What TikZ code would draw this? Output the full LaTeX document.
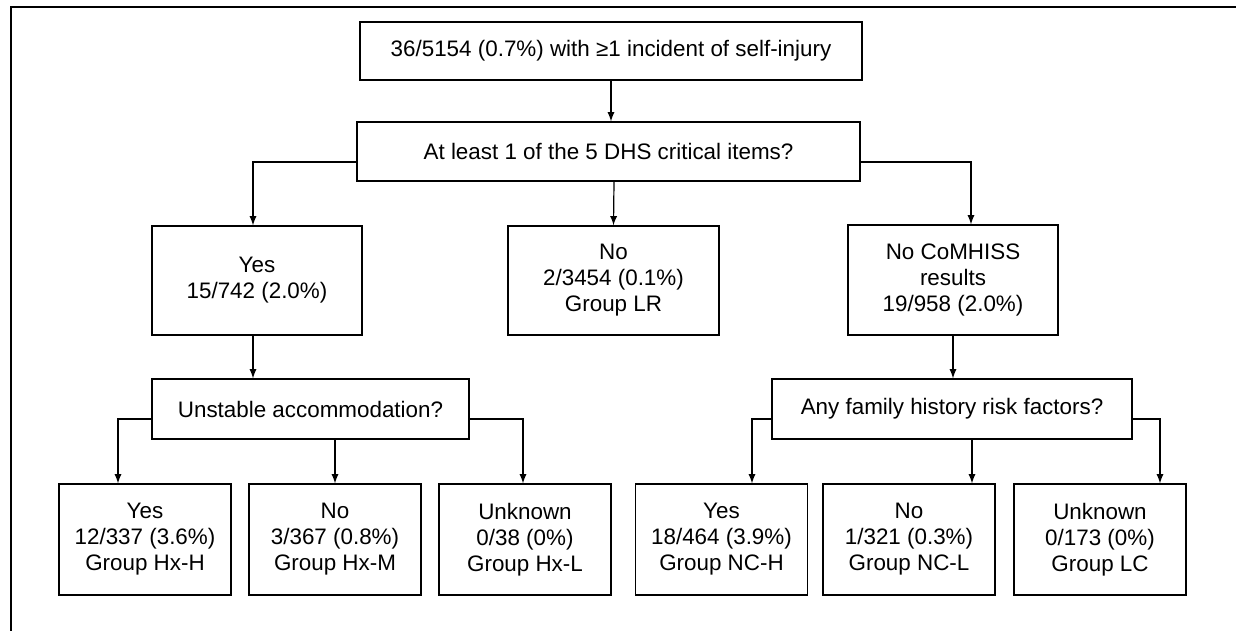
\documentclass[tikz,border=0pt]{standalone}
\usepackage{fontspec}
\setmainfont{Liberation Sans}
\usepackage{tikz}

\begin{document}
\begin{tikzpicture}[x=0.5pt,y=-0.5pt,
  blk/.style={draw,line width=0.6pt,inner sep=0pt,align=center,
    font=\fontsize{11.2pt}{13pt}\selectfont}]
	  \useasboundingbox (0,0) rectangle (1236,631);
	  % outer frame
	  \draw[line width=1pt](11,650) -- (11,7) -- (1250,7);
	  % top box and first question
	  \node[blk,minimum width=251pt,minimum height=29pt] (top) at (611,51) {36/5154 (0.7\%) with ≥1 incident of self-injury};
	  \node[blk,minimum width=251.5pt,minimum height=29.5pt] (q1) at (608.5,151.5) {At least 1 of the 5 DHS critical items?};
	  % second row
	  \node[blk,minimum width=105pt,minimum height=54.5pt] (yes) at (257,280.5) {Yes\\15/742 (2.0\%)};
	  \node[blk,minimum width=105.5pt,minimum height=54.5pt] (no) at (613.5,280.5) {No\\2/3454 (0.1\%)\\Group LR};
	  \node[blk,minimum width=105pt,minimum height=55pt] (nocom) at (953,280) {No CoMHISS\\results\\19/958 (2.0\%)};
	  % second questions
	  \node[blk,minimum width=158.5pt,minimum height=30pt] (unst) at (310.5,409) {Unstable accommodation?};
	  \node[blk,minimum width=180pt,minimum height=30pt] (fam) at (952,409) {Any family history risk factors?};
	  % bottom row
	  \node[blk,minimum width=86pt,minimum height=55.5pt] (hxh) at (145,539.5) {Yes\\12/337 (3.6\%)\\Group Hx-H};
	  \node[blk,minimum width=86pt,minimum height=55.5pt] (hxm) at (335,539.5) {No\\3/367 (0.8\%)\\Group Hx-M};
	  \node[blk,minimum width=86pt,minimum height=55.5pt] (hxl) at (525,539.5) {Unknown\\0/38 (0\%)\\Group Hx-L};
	  \node[blk,minimum width=86pt,minimum height=55.5pt] (nch) at (721.5,539.5) {Yes\\18/464 (3.9\%)\\Group NC-H};
	  \node[blk,minimum width=86pt,minimum height=55.5pt] (ncl) at (909,539.5) {No\\1/321 (0.3\%)\\Group NC-L};
	  \node[blk,minimum width=86pt,minimum height=55.5pt] (lc) at (1100,539.5) {Unknown\\0/173 (0\%)\\Group LC};
	  % arrow from top to q1
	  \draw[->,>=latex,line width=0.6pt](top.south) -- ([xshift=1.25pt]q1.north);
	  % arrows from q1
	  \draw[->,>=latex,line width=0.6pt]([yshift=-5.25pt]q1.west) -| ([xshift=-2pt]yes.north);
	  \draw[->,>=latex,line width=0.6pt]([xshift=2.75pt]q1.south) -- (no.north);
	  \draw[->,>=latex,line width=0.6pt]([yshift=-5.25pt]q1.east) -| ([xshift=9pt]nocom.north);
	  % arrows down to second questions
	  \draw[->,>=latex,line width=0.6pt]([xshift=-2pt]yes.south) -- ([xshift=-28.75pt]unst.north);
	  \draw[->,>=latex,line width=0.6pt](nocom.south) -- ([xshift=0.5pt]fam.north);
	  % arrows from unst
	  \draw[->,>=latex,line width=0.6pt]([yshift=-5pt]unst.west) -| ([xshift=-13.5pt]hxh.north);
	  \draw[->,>=latex,line width=0.6pt]([xshift=12.25pt]unst.south) -- (hxm.north);
	  \draw[->,>=latex,line width=0.6pt]([yshift=-5pt]unst.east) -| ([xshift=-1pt]hxl.north);
	  % arrows from fam
	  \draw[->,>=latex,line width=0.6pt]([yshift=-5pt]fam.west) -| ([xshift=15.25pt]nch.north);
	  \draw[->,>=latex,line width=0.6pt]([xshift=10pt]fam.south) -- ([xshift=31.5pt]ncl.north);
	  \draw[->,>=latex,line width=0.6pt]([yshift=-5pt]fam.east) -| ([xshift=30pt]lc.north);
\end{tikzpicture}
\end{document}
